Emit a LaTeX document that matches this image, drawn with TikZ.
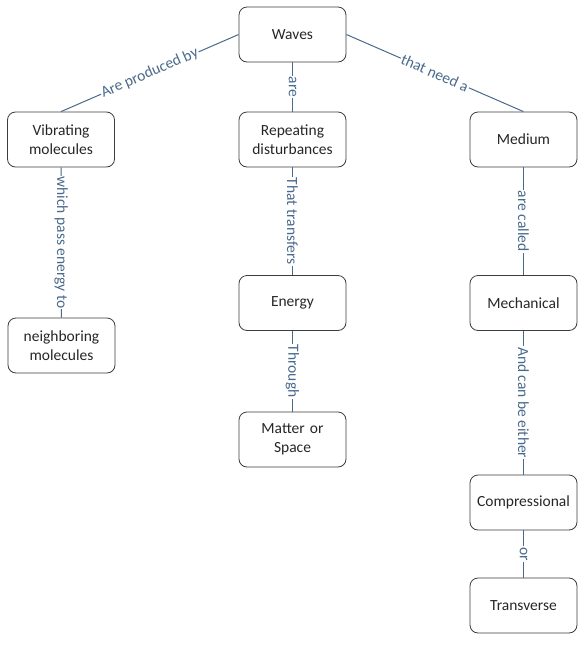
\documentclass[tikz,border=0pt]{standalone}
\usepackage{fontspec}
\setmainfont{Carlito}
\usepackage{tikz}
\definecolor{linkblue}{HTML}{4A6A8C}
\definecolor{boxgray}{HTML}{3C3C3C}
\tikzstyle{Concept}=[rectangle, rounded corners=8pt, minimum width=107pt, minimum height=55pt, text width=97pt, align=center, draw=boxgray, line width=0.8pt, text=black!85, font=\fontsize{15.5}{19}\selectfont]
\tikzstyle{Link}=[draw=linkblue, line width=1pt]
\tikzstyle{Phrase}=[fill=white, text=linkblue, inner xsep=1pt, inner ysep=0pt, font=\fontsize{15.5}{19}\selectfont]

\begin{document}
\begin{tikzpicture}[x=1pt, y=-1pt]
    \useasboundingbox (0,0) rectangle (581,646);
    \path
    (292.5,34.5) node[Concept] (waves) {Waves}
    (61,139.5) node[Concept] (vib) {Vibrating\\molecules}
    (292.5,139.5) node[Concept] (rep) {Repeating\\disturbances}
    (523.5,139.5) node[Concept] (medium) {Medium}
    (61.5,345.5) node[Concept] (neigh) {neighboring\\molecules}
    (292.5,303) node[Concept] (energy) {Energy}
    (292.5,439.5) node[Concept] (matter) {Matter or\\Space}
    (523.5,303) node[Concept] (mech) {Mechanical}
    (523.5,502.5) node[Concept] (comp) {Compressional}
    (523.5,605.5) node[Concept] (trans) {Transverse};

    \draw[Link] (waves.west) -- node[Phrase, midway, sloped] {Are produced by} (vib.north);
    \draw[Link] (waves.east) -- node[Phrase, midway, sloped] {that need a} (medium.north);
    \draw[Link] (waves) -- node[Phrase, midway, rotate=-90] {are} (rep);
    \draw[Link] (vib) -- node[Phrase, midway, rotate=-90] {which pass energy to} (neigh);
    \draw[Link] (rep) -- node[Phrase, midway, rotate=-90] {That transfers} (energy);
    \draw[Link] (energy) -- node[Phrase, midway, rotate=-90] {Through} (matter);
    \draw[Link] (medium) -- node[Phrase, midway, rotate=-90] {are called} (mech);
    \draw[Link] (mech) -- node[Phrase, midway, rotate=-90] {And can be either} (comp);
    \draw[Link] (comp) -- node[Phrase, midway, rotate=-90] {or} (trans);
\end{tikzpicture}
\end{document}
